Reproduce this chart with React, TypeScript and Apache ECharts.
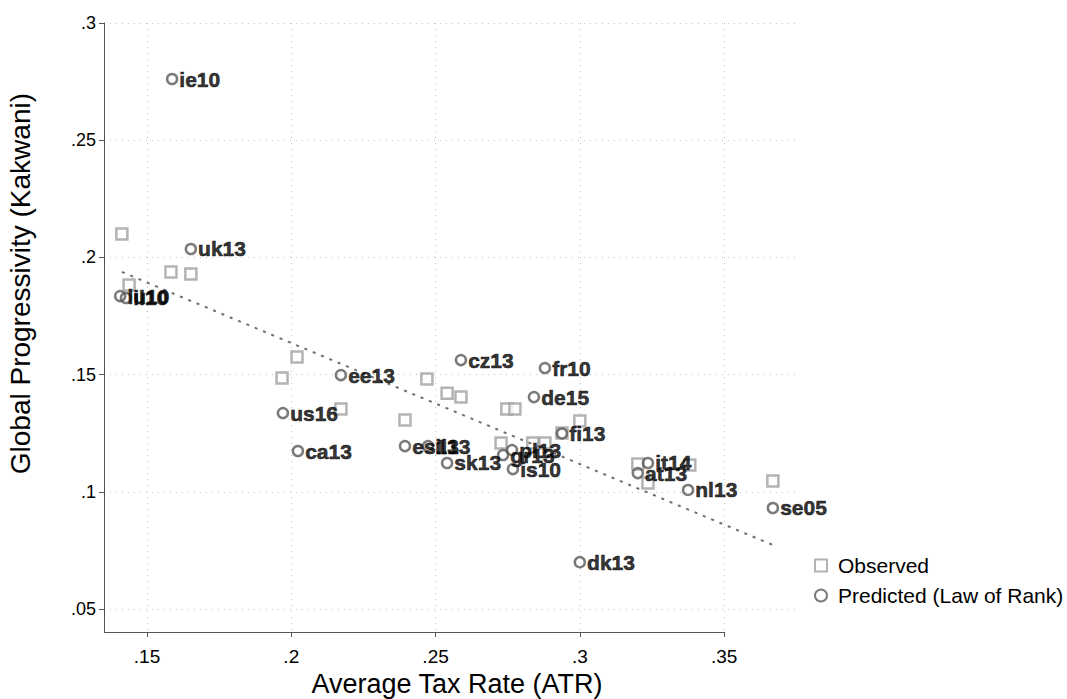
import React, { useEffect, useRef } from "react";
import * as echarts from "echarts";

const xTicks = [0.15, 0.2, 0.25, 0.3, 0.35];
const xTickLabels = [".15", ".2", ".25", ".3", ".35"];
const yTicks = [0.05, 0.1, 0.15, 0.2, 0.25, 0.3];
const yTickLabels = [".05", ".1", ".15", ".2", ".25", ".3"];

const obsX = [0.1413, 0.1438, 0.1583, 0.1652, 0.1968, 0.202, 0.2172, 0.2394, 0.247, 0.254, 0.2588, 0.2747, 0.2775, 0.3, 0.2938, 0.2727, 0.2837, 0.2879, 0.3201, 0.3236, 0.3381, 0.3669];
const obsY = [0.21, 0.1882, 0.1938, 0.1929, 0.1486, 0.1575, 0.1353, 0.1306, 0.1481, 0.1421, 0.1404, 0.1353, 0.1353, 0.1302, 0.1251, 0.1208, 0.1208, 0.1208, 0.1119, 0.1038, 0.1114, 0.1046];

const predLabels = ["ie10", "uk13", "lu10", "il10", "ee13", "cz13", "fr10", "de15", "us16", "ca13", "es13", "il13", "sk13", "pl13", "gr13", "is10", "fi13", "it14", "at13", "nl13", "se05", "dk13"];
const predX = [0.1587, 0.1652, 0.1407, 0.1427, 0.2172, 0.2588, 0.2879, 0.2841, 0.1971, 0.2023, 0.2394, 0.2474, 0.254, 0.2765, 0.2734, 0.2768, 0.2938, 0.3236, 0.3201, 0.3375, 0.3669, 0.3];
const predY = [0.2761, 0.2036, 0.1835, 0.1827, 0.1498, 0.1562, 0.1528, 0.1404, 0.1336, 0.1174, 0.1195, 0.1195, 0.1123, 0.1178, 0.1157, 0.1097, 0.1249, 0.1123, 0.108, 0.1008, 0.0931, 0.07];

const fitX = [0.1413, 0.3669];
const fitY = [0.1938, 0.0773];

const xMin = 0.1351;
const xMax = 0.3763;
const yMin = 0.0402;
const yMax = 0.3;

const FONT = "Arial, 'Liberation Sans', Helvetica, sans-serif";

export default function App() {
  const ref = useRef<HTMLDivElement>(null);
  useEffect(() => {
    if (!ref.current) return;
    const chart = echarts.init(ref.current, undefined, { renderer: "svg" });
    const fmt = (ticks: number[], labels: string[]) => (v: number) => {
      const i = ticks.findIndex((t) => Math.abs(t - v) < 1e-9);
      return i >= 0 ? labels[i] : "";
    };
    chart.setOption({
      animation: false,
      backgroundColor: "#ffffff",
      textStyle: { fontFamily: FONT },
      grid: { left: 104, right: 267, top: 23, bottom: 67, containLabel: false, outerBoundsMode: "none" },
      graphic: [
        {
          type: "text",
          left: 6,
          top: 93,
          rotation: Math.PI / 2,
          style: {
            text: "Global Progressivity (Kakwani)",
            fontSize: 28,
            fill: "#000",
            fontFamily: FONT,
          },
        },
      ],
      xAxis: {
        type: "value",
        min: xMin,
        max: xMax,
        name: "Average Tax Rate (ATR)",
        nameLocation: "middle",
        nameGap: 38,
        nameTextStyle: { fontSize: 27, color: "#000", fontFamily: FONT, padding: [0, 0, 0, 10] },
        axisLine: { show: false },
        axisTick: { show: true, length: 5, customValues: xTicks, lineStyle: { color: "#555" } },
        axisLabel: { show: true, customValues: xTicks, formatter: fmt(xTicks, xTickLabels), fontSize: 19, color: "#000", margin: 15, fontFamily: FONT },
        splitLine: { show: true, lineStyle: { color: "#c0c0c0", type: [1, 5], width: 1 } },
      },
      yAxis: {
        type: "value",
        min: yMin,
        max: yMax,
        axisLine: { show: true, lineStyle: { color: "#555", width: 1 } },
        axisTick: { show: true, length: 5, customValues: yTicks, lineStyle: { color: "#555" } },
        axisLabel: { show: true, customValues: yTicks, formatter: fmt(yTicks, yTickLabels), fontSize: 18, color: "#000", margin: 8, fontFamily: FONT },
        splitLine: { show: true, lineStyle: { color: "#c0c0c0", type: [1, 5], width: 1 } },
      },
      legend: {
        orient: "vertical",
        left: 809,
        top: 550,
        itemWidth: 12,
        itemHeight: 12,
        itemGap: 9,
        textStyle: { fontSize: 21, color: "#000", fontFamily: FONT, padding: [0, 0, 0, 6] },
        data: [
          { name: "Observed", icon: "rect", itemStyle: { color: "#fff", borderColor: "#a0a0a0", borderWidth: 2 } },
          { name: "Predicted (Law of Rank)", icon: "circle", itemStyle: { color: "#fff", borderColor: "#5a5a5a", borderWidth: 2 } },
        ],
      },
      series: [
        {
          name: "axisline",
          type: "line",
          data: [],
          silent: true,
          markLine: {
            silent: true,
            symbol: "none",
            label: { show: false },
            lineStyle: { color: "#555", width: 1, type: "solid" },
            data: [[{ coord: [xMin, yMin] }, { coord: [xTicks[xTicks.length - 1], yMin] }]],
          },
        },
        {
          name: "Observed",
          type: "scatter",
          symbol: "rect",
          symbolSize: 11,
          itemStyle: { color: "#ffffff", borderColor: "#a0a0a0", borderWidth: 2.5 },
          data: obsX.map((x, i) => [x, obsY[i]]),
          z: 2,
        },
        {
          name: "fit",
          type: "line",
          symbol: "none",
          silent: true,
          lineStyle: { color: "#6e6e6e", width: 2, type: [3, 6] },
          data: fitX.map((x, i) => [x, fitY[i]]),
          z: 3,
        },
        {
          name: "Predicted (Law of Rank)",
          type: "scatter",
          symbol: "circle",
          symbolSize: 10,
          itemStyle: { color: "rgba(255,255,255,0)", borderColor: "#5a5a5a", borderWidth: 2.5 },
          label: {
            show: true,
            position: "right",
            distance: 1,
            formatter: (p: any) => predLabels[p.dataIndex],
            fontSize: 21,
            fontWeight: "bold",
            color: "#000000",
            textBorderColor: "#000000",
            textBorderWidth: 0.6,
            fontFamily: FONT,
          },
          data: predX.map((x, i) => [x, predY[i]]),
          z: 4,
        },
      ],
    });
    return () => chart.dispose();
  }, []);
  return <div ref={ref} style={{ position: "fixed", left: 0, top: 0, width: 1067, height: 699, background: "#fff" }} />;
}
